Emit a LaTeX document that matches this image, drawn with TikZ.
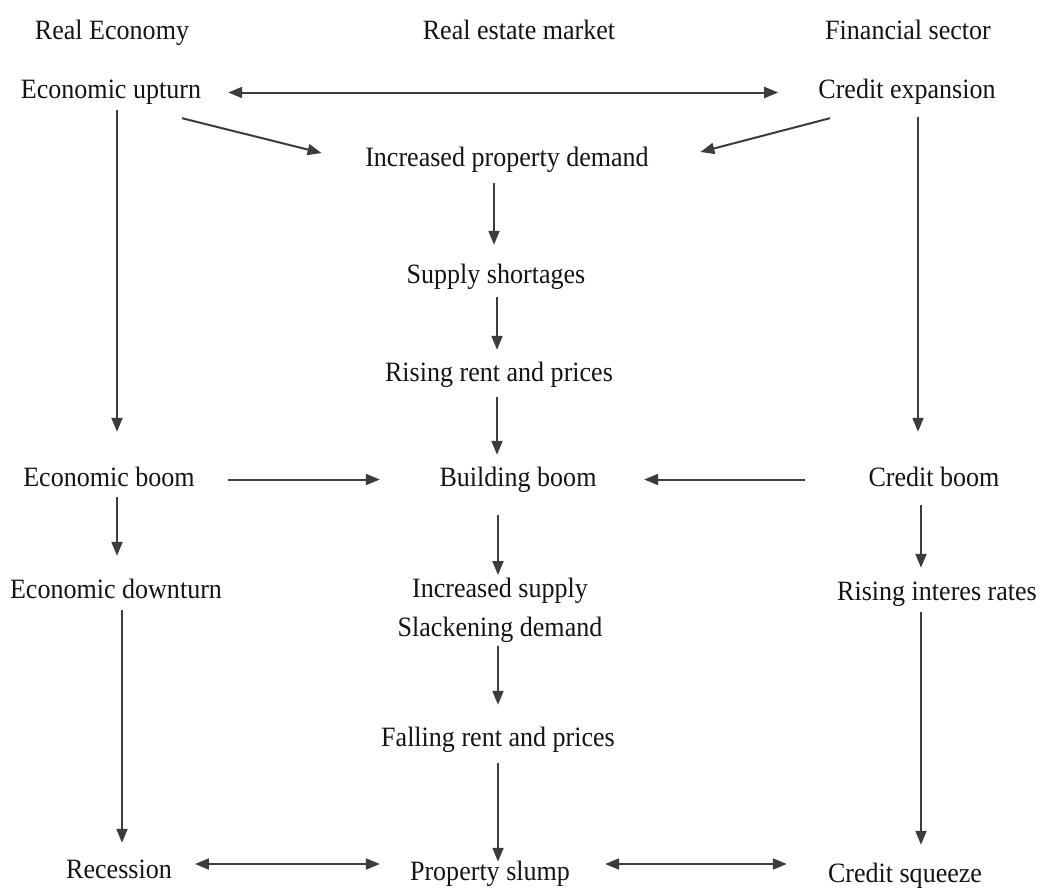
\documentclass[tikz,border=0pt]{standalone}
\usepackage{fontspec}
\setmainfont[FakeStretch=0.93]{Liberation Serif}
\usetikzlibrary{arrows.meta}
\definecolor{ink}{HTML}{141414}
\definecolor{arrowc}{HTML}{3C3C3C}
\tikzset{
  lbl/.style={anchor=base, inner sep=0pt, text height=19pt, text depth=6pt, text=ink,
    font=\fontsize{28}{39}\selectfont},
  arr/.style={draw=arrowc, line width=2pt, -{Triangle[length=14pt,width=11pt]}},
  darr/.style={draw=arrowc, line width=2pt, {Triangle[length=14pt,width=11pt]}-{Triangle[length=14pt,width=11pt]}}
}
\begin{document}
\begin{tikzpicture}[x=1pt,y=-1pt]
\useasboundingbox (0,0) rectangle (1041,891);
% headers
\node[lbl] (h1) at (112,40) {Real Economy};
\node[lbl] (h2) at (519,40) {Real estate market};
\node[lbl] (h3) at (908,40) {Financial sector};
% nodes
\node[lbl] (up) at (111,99) {Economic upturn};
\node[lbl] (ce) at (907,99) {Credit expansion};
\node[lbl] (ipd) at (507,166) {Increased property demand};
\node[lbl] (ss) at (496,283) {Supply shortages};
\node[lbl] (rrp) at (499,381) {Rising rent and prices};
\node[lbl] (eb) at (109,486) {Economic boom};
\node[lbl] (bb) at (518,486) {Building boom};
\node[lbl] (cb) at (934,486) {Credit boom};
\node[lbl] (ed) at (116,598) {Economic downturn};
\node[anchor=north, inner sep=0pt, align=center, text=ink, font=\fontsize{28}{39}\selectfont] (isd) at (500,578) {Increased supply\\Slackening demand};
\node[lbl] (rir) at (937,600) {Rising interes rates};
\node[lbl] (fr) at (498,746) {Falling rent and prices};
\node[lbl] (rec) at (119,878) {Recession};
\node[lbl] (ps) at (490,880) {Property slump};
\node[lbl] (cs) at (905,882) {Credit squeeze};
% connectors
\draw[darr] ([shift={(27,0)}]up.east) -- ([shift={(-40,0)}]ce.west);
\draw[arr] ([shift={(71,13)}]up.south) -- ([shift={(-43.5,-6.5)}]ipd.west);
\draw[arr] ([shift={(-77,13)}]ce.south) -- ([shift={(51.5,-7.5)}]ipd.east);
\draw[arr] ([shift={(6,5)}]up.south) -- ([shift={(8,-35)}]eb.north);
\draw[arr] ([shift={(11,12)}]ce.south) -- ([shift={(-16,-35)}]cb.north);
\draw[arr] ([shift={(-13,11)}]ipd.south) -- ([shift={(-2,-19)}]ss.north);
\draw[arr] ([shift={(1,8)}]ss.south) -- ([shift={(-2,-12)}]rrp.north);
\draw[arr] ([shift={(-2,10)}]rrp.south) -- ([shift={(-21,-12)}]bb.north);
\draw[arr] ([shift={(33,0)}]eb.east) -- ([shift={(-59.5,0)}]bb.west);
\draw[arr] ([shift={(-63.5,0)}]cb.west) -- ([shift={(47.5,0)}]bb.east);
\draw[arr] ([shift={(8,5)}]eb.south) -- ([shift={(1,-23)}]ed.north);
\draw[arr] ([shift={(-20,23)}]bb.south) -- ([shift={(-2,-3)}]isd.north);
\draw[arr] ([shift={(-13,13)}]cb.south) -- ([shift={(-16,-13)}]rir.north);
\draw[arr] ([shift={(-2,3)}]isd.south) -- ([shift={(0,-22)}]fr.north);
\draw[arr] ([shift={(6,6)}]ed.south) -- ([shift={(3,-16)}]rec.north);
\draw[arr] ([shift={(0,11)}]fr.south) -- ([shift={(8,1)}]ps.north);
\draw[arr] ([shift={(-16,6)}]rir.south) -- ([shift={(16,-18)}]cs.north);
\draw[darr] ([shift={(23,-7.5)}]rec.east) -- ([shift={(-30,-9.5)}]ps.west);
\draw[darr] ([shift={(35,-9.5)}]ps.east) -- ([shift={(-41,-11.5)}]cs.west);
\end{tikzpicture}
\end{document}
